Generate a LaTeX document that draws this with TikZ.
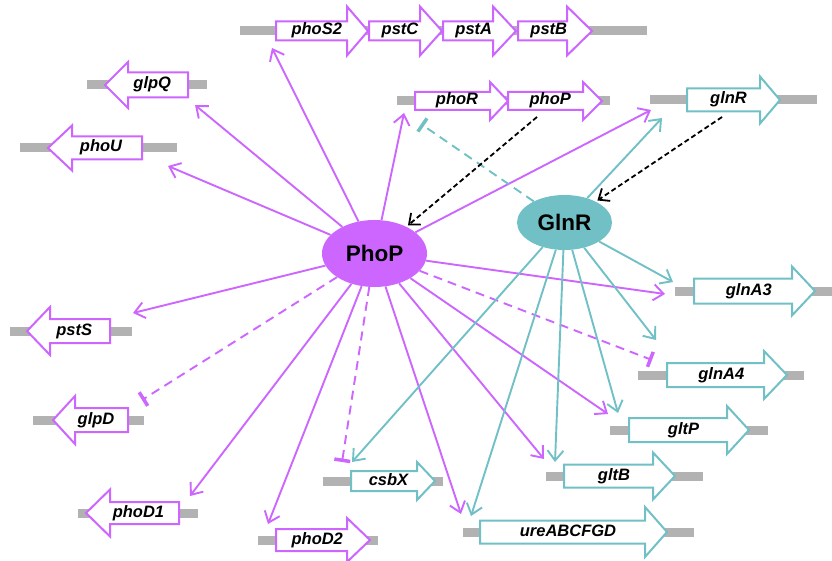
\documentclass[tikz,border=0pt]{standalone}
\usepackage{fontspec}
\setmainfont{Liberation Sans}
\usetikzlibrary{arrows.meta,shapes.geometric}

\definecolor{phopcol}{RGB}{204,102,255}
\definecolor{glnrcol}{RGB}{112,192,198}
\definecolor{dnagrey}{RGB}{178,178,178}

% #1 name, #2 tail x, #3 head base x, #4 tip x, #5 y, #6 half shaft, #7 half head, #8 colour, #9 label
\newcommand{\gene}[9]{%
  \draw[genebody, draw=#8] (#2,#5-#6) -- (#3,#5-#6) -- (#3,#5-#7) -- (#4,#5)
    -- (#3,#5+#7) -- (#3,#5+#6) -- (#2,#5+#6) -- cycle;
  \node[genelabel] (#1) at ({(2*#2+#3+#4)/4},#5) {#9};}

\tikzset{
  dna/.style={dnagrey, line width=9pt},
  genebody/.style={fill=white, line width=2pt},
  genelabel/.style={font=\fontsize{16.5}{16.5}\selectfont\bfseries\itshape,
    inner sep=0pt, text height=11.5pt, text depth=3.5pt},
  regulator/.style={ellipse, inner sep=0pt, font=\fontsize{22.5}{22.5}\selectfont\bfseries},
  act/.style={line width=1.9pt, -{Straight Barb[length=10pt,width=16pt]}},
  inh/.style={line width=1.9pt, dash pattern=on 9pt off 6pt, -{Bar[width=16pt,line width=3.5pt]}},
  ind/.style={black, line width=1.8pt, dash pattern=on 5pt off 3pt,
    -{Straight Barb[length=9pt,width=15pt]}}
}

\begin{document}
\begin{tikzpicture}[x=1pt,y=-1pt]
  \useasboundingbox (0,0) rectangle (832,561);

  % DNA
  \draw[dna] (240,31) -- (647,31);
  \draw[dna] (397,101) -- (610,101);
  \draw[dna] (650,100) -- (817,100);
  \draw[dna] (87,85) -- (207,85);
  \draw[dna] (20,148) -- (177,148);
  \draw[dna] (10,331) -- (132,331);
  \draw[dna] (33,420) -- (144,420);
  \draw[dna] (78,513) -- (198,513);
  \draw[dna] (258,540) -- (378,540);
  \draw[dna] (323,481) -- (443,481);
  \draw[dna] (675,291) -- (832,291);
  \draw[dna] (638,375) -- (804,375);
  \draw[dna] (610,430) -- (768,430);
  \draw[dna] (546,476) -- (703,476);
  \draw[dna] (463,532) -- (694,532);

  % genes
  \gene{g-phoS2}{276}{347}{368}{31}{9.5}{24.5}{phopcol}{phoS2}
  \gene{g-pstC}{369}{420}{442}{31}{9.5}{24.5}{phopcol}{pstC}
  \gene{g-pstA}{443}{493}{516}{31}{9.5}{24.5}{phopcol}{pstA}
  \gene{g-pstB}{518}{567}{592}{31}{9.5}{24.5}{phopcol}{pstB}
  \gene{g-phoR}{415}{490}{508}{101}{9}{19}{phopcol}{phoR}
  \gene{g-phoP}{508}{583}{602}{101}{9}{19}{phopcol}{phoP}
  \gene{g-glnR}{687}{760}{780}{100}{11.5}{23.5}{glnrcol}{glnR}
  \gene{g-glpQ}{188}{128}{105}{85}{12.5}{23}{phopcol}{glpQ}
  \gene{g-phoU}{142}{72}{48}{148}{11.5}{22.5}{phopcol}{phoU}
  \gene{g-pstS}{110}{50}{27}{331}{12}{24}{phopcol}{pstS}
  \gene{g-glpD}{128}{75}{53}{420}{12}{24}{phopcol}{glpD}
  \gene{g-phoD1}{179}{110}{86}{513}{11}{23.5}{phopcol}{phoD1}
  \gene{g-phoD2}{276}{347}{370}{540}{11}{22}{phopcol}{phoD2}
  \gene{g-csbX}{351}{417}{435}{481}{10}{19}{glnrcol}{csbX}
  \gene{g-glnA3}{694}{792}{815}{291}{12.5}{24.5}{glnrcol}{glnA3}
  \gene{g-glnA4}{667}{764}{787}{375}{12}{24}{glnrcol}{glnA4}
  \gene{g-gltP}{629}{727}{749}{430}{12}{24}{glnrcol}{gltP}
  \gene{g-gltB}{564}{653}{675}{476}{11.5}{23.5}{glnrcol}{gltB}
  \gene{g-ure}{480}{645}{667}{532}{11.5}{25}{glnrcol}{ureABCFGD}

  % regulators
  \node[regulator, fill=phopcol, minimum width=105pt, minimum height=67pt] (PhoP) at (374.5,253.5) {PhoP};
  \node[regulator, fill=glnrcol, minimum width=95pt, minimum height=55pt] (GlnR) at (564.5,222.5) {GlnR};

  % ends of the connectors
  \coordinate (tp-phoS2) at (272,48);
  \coordinate (tp-phoR) at (404,113);
  \coordinate (tp-glnR) at (651,110);
  \coordinate (tp-glnA3) at (665,294);
  \coordinate (tp-gltP) at (608,414);
  \coordinate (tp-gltB) at (544,459);
  \coordinate (tp-ure) at (461,514);
  \coordinate (tp-phoD2) at (268,524);
  \coordinate (tp-phoD1) at (190,496);
  \coordinate (tp-pstS) at (133,313);
  \coordinate (tp-phoU) at (168,166);
  \coordinate (tp-glpQ) at (195,105);
  \coordinate (tp-glnA4) at (652,360);
  \coordinate (tp-csbX) at (342,462);
  \coordinate (tp-glpD) at (142,400);
  \coordinate (tg-phoR) at (421,124);
  \coordinate (tg-glnR) at (662,118);
  \coordinate (tg-glnA3) at (673,282);
  \coordinate (tg-glnA4) at (656,340);
  \coordinate (tg-gltP) at (618,413);
  \coordinate (tg-gltB) at (555,462);
  \coordinate (tg-ure) at (471,516);
  \coordinate (tg-csbX) at (352,462);
  \coordinate (s-phoP) at (537,117);
  \coordinate (s-glnR) at (722,117);

  % PhoP regulon
  \foreach \t in {phoS2,phoR,glnR,glnA3,gltP,gltB,ure,phoD2,phoD1,pstS,phoU,glpQ}
    \draw[act, phopcol] (PhoP) -- (tp-\t);
  \foreach \t in {glnA4,csbX,glpD}
    \draw[inh, phopcol] (PhoP) -- (tp-\t);

  % GlnR regulon
  \foreach \t in {glnR,glnA3,glnA4,gltP,gltB,ure,csbX}
    \draw[act, glnrcol] (GlnR) -- (tg-\t);
  \draw[inh, glnrcol] (GlnR) -- (tg-phoR);

  % expression of the regulators
  \draw[ind, shorten >=2pt] (s-phoP) -- (PhoP);
  \draw[ind, shorten >=2pt] (s-glnR) -- (GlnR);
\end{tikzpicture}
\end{document}
